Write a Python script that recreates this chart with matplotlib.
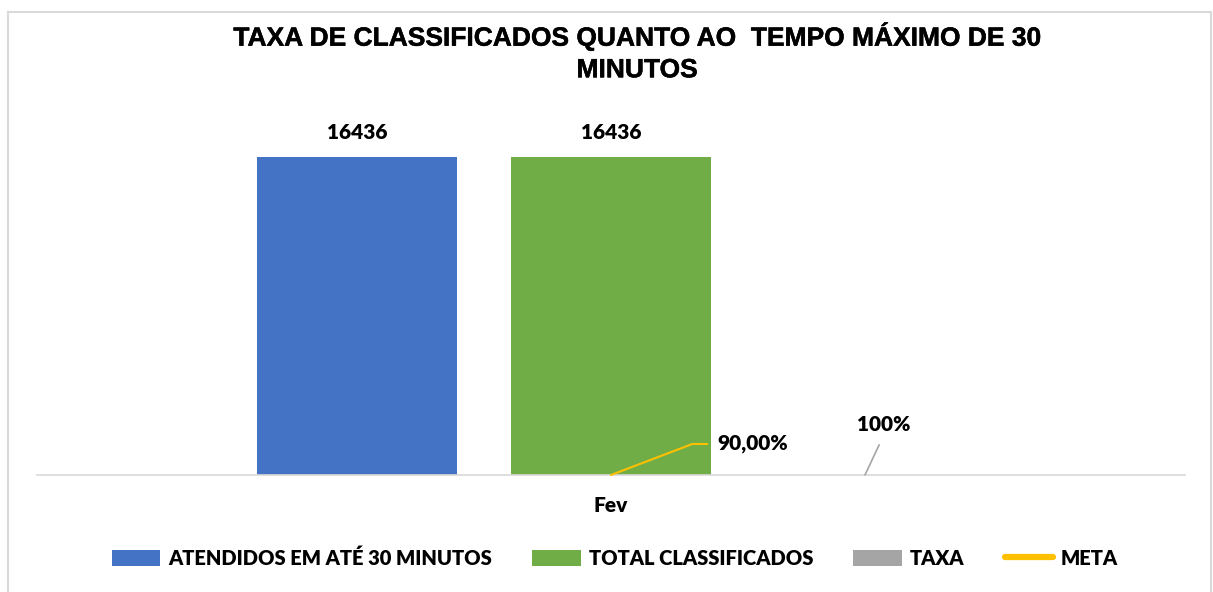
import matplotlib.pyplot as plt
import matplotlib.patheffects as pe
from matplotlib.lines import Line2D

plt.rcParams['font.family'] = ['Lato', 'DejaVu Sans']

meses = ['Fev']
atendidos = [16436]
total = [16436]
taxa = [1.0]
meta = [0.9]

azul, verde, cinza, amarelo = '#4472C4', '#70AD47', '#A5A5A5', '#FFC000'
peso = 'heavy'

fig = plt.figure(figsize=(12.13, 5.92), dpi=100)
ax = fig.add_axes([37/1213, 117/592, 1148/1213, (475-127)/592])

x = list(range(len(meses)))
w = 200/1148
d = 254/1148
b1 = ax.bar([i - d for i in x], atendidos, w, color=azul, label='ATENDIDOS EM ATÉ 30 MINUTOS')
b2 = ax.bar(x, total, w, color=verde, label='TOTAL CLASSIFICADOS')
b3 = ax.bar([i + d for i in x], taxa, w, color=cinza, label='TAXA')
l1, = ax.plot(x, meta, color=amarelo, lw=4.5, label='META', solid_capstyle='round')

for b in (b1, b2):
    ax.bar_label(b, labels=[str(v) for v in b.datavalues], padding=11,
                 fontsize=15, fontweight=peso)

# rótulos com linha guia
for i, v in zip(x, meta):
    ax.annotate(f'{v*100:.2f}%'.replace('.', ','), xy=(i, v), xytext=(106, 31),
                textcoords='offset pixels', ha='left', va='center',
                fontsize=15, fontweight=peso,
                arrowprops=dict(arrowstyle='-', color=amarelo, lw=1.5,
                                relpos=(0, 0.5), shrinkA=5, shrinkB=0,
                                connectionstyle='angle,angleA=0,angleB=20.85,rad=0'))
for i, v in zip(x, taxa):
    ax.annotate(f'{v*100:.0f}%', xy=(i + d, v), xytext=(19, 50),
                textcoords='offset pixels', ha='center', va='center',
                fontsize=15, fontweight=peso,
                arrowprops=dict(arrowstyle='-', color=cinza, lw=1.2,
                                relpos=(0.5, 0), shrinkA=6, shrinkB=0))

ax.set_xlim(-0.5, 0.5)
ax.set_ylim(0, 18000)
ax.set_xticks(x)
ax.set_xticklabels(meses, fontsize=15, fontweight=peso)
ax.tick_params(axis='x', length=0, pad=15)
ax.set_yticks([])
for s in ['top', 'right', 'left']:
    ax.spines[s].set_visible(False)
ax.spines['bottom'].set_color('#D9D9D9')
ax.spines['bottom'].set_linewidth(1.2)

fig.text(637/1213, 1 - 52.5/592, 'TAXA DE CLASSIFICADOS QUANTO AO  TEMPO MÁXIMO DE 30\nMINUTOS',
         ha='center', va='center', fontsize=19, fontweight='bold',
         family=['Liberation Sans', 'DejaVu Sans'], linespacing=1.4,
         path_effects=[pe.withStroke(linewidth=0.35, foreground='black')])

fig.legend([b1, b2, b3, l1], [h.get_label() for h in (b1, b2, b3, l1)],
           loc='center', bbox_to_anchor=(615/1213, 1 - 558/592), ncol=4, frameon=False,
           prop={'weight': peso, 'size': 14.5}, handlelength=2.4, handleheight=0.85,
           handletextpad=0.4, columnspacing=2.0)

# moldura
c = '#D9D9D9'
fig.add_artist(Line2D([8/1213, 8/1213], [0, 1 - 12/592], color=c, lw=1.5))
fig.add_artist(Line2D([8/1213, 1211/1213], [1 - 12/592, 1 - 12/592], color=c, lw=1.5))
fig.add_artist(Line2D([1211/1213, 1211/1213], [0, 1 - 12/592], color=c, lw=1.5))

fig.savefig('out.png', dpi=100)
